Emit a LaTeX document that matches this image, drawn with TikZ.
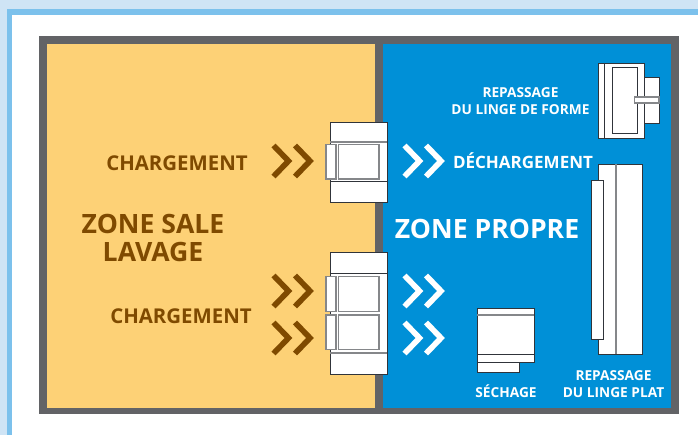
\documentclass[tikz,border=0pt]{standalone}
\usepackage{fontspec}
\setmainfont{Open Sans}
\usepackage{xcolor}
\usetikzlibrary{calc}
\definecolor{paleblue}{HTML}{CFE4F5}
\definecolor{bandblue}{HTML}{7CC1EC}
\definecolor{framegray}{HTML}{626366}
\definecolor{dirtyyellow}{HTML}{FDD176}
\definecolor{cleanblue}{HTML}{0090D7}
\definecolor{labelbrown}{HTML}{7F4A00}
\definecolor{edgedark}{HTML}{30343A}
\definecolor{edgegray}{HTML}{85878A}
\tikzset{
    machine/.style={draw=edgedark, fill=white, line width=0.9pt},
    softedge/.style={draw=edgegray, line width=1.4pt},
    hardedge/.style={draw=edgedark, line width=0.9pt},
    chevron/.style={line width=5.6pt, miter limit=10},
    bigtext/.style={font=\bfseries\fontsize{26.6}{28}\selectfont, align=center, inner sep=0pt},
    midtext/.style={font=\bfseries\fontsize{20.4}{22}\selectfont, inner sep=0pt},
    smalltext/.style={font=\bfseries\fontsize{13.7}{17}\selectfont, align=center, inner sep=0pt, text=white}
}
% pair of chevrons, tip of the first one at #2,#3
\newcommand{\chevrons}[3]{
    \foreach \dx in {0,21.5} {
        \draw[chevron, #1] ($(#2-18.5+\dx,#3-15.5)$) -- ($(#2-3.5+\dx,#3)$) -- ($(#2-18.5+\dx,#3+15.5)$);
    }
}
\begin{document}
\begin{tikzpicture}[x=1pt, y=-1pt]
        \useasboundingbox (0,0) rectangle (698,435);
        % background
        \fill[paleblue] (0,0) rectangle (698,435);
        \fill[bandblue] (6.5,9) rectangle (698,435);
        \fill[white] (12,15) rectangle (698,435);
        % zones
        \fill[framegray] (39,36) rectangle (678.5,414);
        \fill[dirtyyellow] (47,44) rectangle (375,408);
        \fill[cleanblue] (383,44) rectangle (671,408);
        % washer 1
        \draw[machine] (330,122) rectangle (387,202);
        \draw[softedge] (330,142) -- (387,142);
        \draw[hardedge] (330,181) -- (387,181);
        \draw[machine, draw=edgegray, line width=1.2pt] (326,144.5) rectangle (336,179);
        \draw[machine, draw=edgegray, line width=1.4pt] (338.5,144.5) rectangle (379,179);
        % washer 2
        \draw[machine] (330,252) rectangle (387,374);
        \draw[hardedge] (330,273) -- (387,273);
        \draw[softedge] (330,353) -- (387,353);
        \draw[machine, draw=edgegray, line width=1.2pt] (326,276.5) rectangle (336,311.5);
        \draw[machine, draw=edgegray, line width=1.2pt] (326,315) rectangle (336,349.5);
        \draw[machine, draw=edgegray, line width=1.4pt] (338.5,276.5) rectangle (379,311.5);
        \draw[machine, draw=edgegray, line width=1.4pt] (338.5,315) rectangle (379,349.5);
        % arrows
        \chevrons{labelbrown}{292}{161}
        \chevrons{labelbrown}{292}{291}
        \chevrons{labelbrown}{292}{338}
        \chevrons{white}{423}{161}
        \chevrons{white}{423}{291}
        \chevrons{white}{423}{338}
        % form ironer
        \draw[machine] (644,77) rectangle (659,123);
        \draw[machine] (598,63) rectangle (644,138);
        \draw[hardedge] (604,63) -- (604,138);
        \draw[machine] (612,67.5) rectangle (637,133);
        \draw[machine, draw=edgegray, line width=1.2pt] (634.5,97) rectangle (659,103);
        % dryer
        \draw[machine] (477,362) rectangle (519,372);
        \draw[machine] (477,308) rectangle (534,362);
        \draw[softedge] (477,315) -- (534,315);
        \draw[hardedge] (477,354) -- (534,354);
        % flat ironer
        \draw[machine] (598,164) rectangle (642,354);
        \draw[softedge] (616,164) -- (616,354);
        \draw[machine] (591,180) rectangle (603,339);
        % Labels
        \node[midtext, text=labelbrown] (charge1) at (177,163) {CHARGEMENT};
        \node[midtext, text=labelbrown] (charge2) at (181,316) {CHARGEMENT};
        \node[bigtext, text=labelbrown] (sale) at (153,238) {ZONE SALE\\LAVAGE};
        \node[midtext, text=white, font=\bfseries\fontsize{17}{19}\selectfont] (decharge) at (523,160.5) {DÉCHARGEMENT};
        \node[bigtext, text=white] (propre) at (487,229) {ZONE PROPRE};
        \node[smalltext] (forme) at (520.5,101) {REPASSAGE\\DU LINGE DE FORME};
        \node[smalltext] (sechage) at (506,391) {SÉCHAGE};
        \node[smalltext] (plat) at (613.5,384) {REPASSAGE\\DU LINGE PLAT};
\end{tikzpicture}
\end{document}
